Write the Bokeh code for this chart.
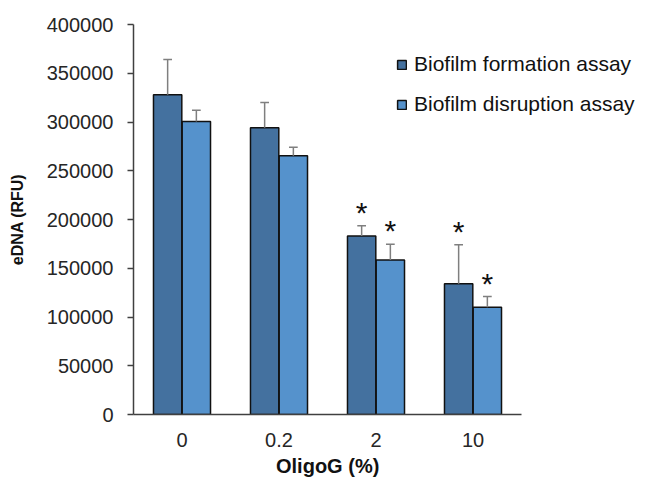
from bokeh.plotting import figure
from bokeh.layouts import row
from bokeh.models import (ColumnDataSource, Range1d, FixedTicker, Title, Spacer,
                          NumeralTickFormatter, Legend, LegendItem)
from bokeh.core.properties import value
from bokeh.embed import file_html
from bokeh.resources import INLINE

# ---- data ----
categories = ["0", "0.2", "2", "10"]
formation = [328000, 294000, 183000, 134000]
formation_err = [36000, 26000, 10500, 40000]
disruption = [300500, 265500, 158500, 110000]
disruption_err = [11500, 8500, 16000, 11000]
formation_sig = [False, False, True, True]
disruption_sig = [False, False, True, True]
y_ticks = [0, 50000, 100000, 150000, 200000, 250000, 300000, 350000, 400000]

series_names = ["Biofilm formation assay", "Biofilm disruption assay"]
DARK = "#44719f"
LIGHT = "#5592cc"
FONT = "Liberation Sans"

n = len(categories)
centers = [i + 0.5 for i in range(n)]
OFF = 0.148
BW = 0.292
CAP = 0.09

CAT_W = 388          # pixel width of the category area
FRAME_W = 505        # frame extends right so the legend is not clipped

src = ColumnDataSource(dict(
    xf=[c - OFF for c in centers], xd=[c + OFF for c in centers],
    f=formation, fe=[v + e for v, e in zip(formation, formation_err)],
    d=disruption, de=[v + e for v, e in zip(disruption, disruption_err)],
))

p = figure(x_range=Range1d(0, n * FRAME_W / CAT_W), y_range=Range1d(0, 400000),
           frame_width=FRAME_W, frame_height=390,
           output_backend="svg", toolbar_location=None,
           min_border_left=120, min_border_right=0, min_border_top=24,
           min_border_bottom=0)

p.outline_line_color = None
p.xgrid.grid_line_color = None
p.ygrid.grid_line_color = None

r1 = p.vbar(x="xf", top="f", width=BW, source=src,
            fill_color=DARK, line_color="#111111", line_width=1.5)
r2 = p.vbar(x="xd", top="d", width=BW, source=src,
            fill_color=LIGHT, line_color="#111111", line_width=1.5)

# error bars (upper only)
for xc, top, err in [("xf", "f", "fe"), ("xd", "d", "de")]:
    xs = src.data[xc]
    es = src.data[err]
    p.segment(x0=xc, y0=top, x1=xc, y1=err, source=src, line_color="#7f7f7f", line_width=1.5)
    p.segment(x0=[x - CAP / 2 for x in xs], y0=es, x1=[x + CAP / 2 for x in xs], y1=es,
              line_color="#7f7f7f", line_width=1.5)

# significance stars
STAR_OFF = 21000
for xc, vals, errs, sig in [("xf", formation, formation_err, formation_sig),
                            ("xd", disruption, disruption_err, disruption_sig)]:
    xs = [x for x, s in zip(src.data[xc], sig) if s]
    ys = [v + e + STAR_OFF for v, e, s in zip(vals, errs, sig) if s]
    p.text(x=xs, y=ys, text=["*"] * len(xs),
           text_font=value(FONT), text_font_size="30px", text_align="center",
           text_baseline="middle", text_color="#111111", y_offset=7)

# axes
p.yaxis.ticker = FixedTicker(ticks=y_ticks)
p.yaxis.formatter = NumeralTickFormatter(format="0")
p.yaxis.minor_tick_line_color = None
p.yaxis.major_tick_out = 6
p.yaxis.major_tick_in = 0
p.yaxis.major_label_standoff = 14
p.yaxis.axis_line_color = "#404040"
p.yaxis.major_tick_line_color = "#404040"
p.yaxis.axis_line_width = 1.5
p.yaxis.major_tick_line_width = 1.5
p.yaxis.major_label_text_font = FONT
p.yaxis.major_label_text_font_size = "20px"
p.yaxis.major_label_text_color = "#262626"
p.yaxis.axis_label = "eDNA (RFU)"
p.yaxis.axis_label_text_font = FONT
p.yaxis.axis_label_text_font_style = "bold"
p.yaxis.axis_label_text_font_size = "16px"
p.yaxis.axis_label_text_color = "#111111"
p.yaxis.axis_label_standoff = 18

p.xaxis.ticker = FixedTicker(ticks=centers)
p.xaxis.major_label_overrides = {c: lab for c, lab in zip(centers, categories)}
p.xaxis.bounds = (0, n)
p.xaxis.major_tick_line_color = None
p.xaxis.minor_tick_line_color = None
p.xaxis.major_tick_out = 0
p.xaxis.major_label_standoff = 18
p.xaxis.axis_line_color = "#404040"
p.xaxis.axis_line_width = 1.5
p.xaxis.major_label_text_font = FONT
p.xaxis.major_label_text_font_size = "20px"
p.xaxis.major_label_text_color = "#262626"

# x-axis title centred on the category area (not the whole frame)
XT_W = 103  # approx. rendered width of the title text
xtitle = Title(text="OligoG (%)", align="left", offset=CAT_W / 2 - XT_W / 2,
               text_font=FONT, text_font_style="bold", text_font_size="20px",
               text_color="#111111", standoff=7)
p.add_layout(xtitle, "below")

legend = Legend(items=[LegendItem(label=series_names[0], renderers=[r1]),
                       LegendItem(label=series_names[1], renderers=[r2])],
                location=(263, 298), orientation="vertical")
legend.border_line_color = None
legend.background_fill_alpha = 0
legend.padding = 0
legend.margin = 0
legend.spacing = 16
legend.glyph_width = 11
legend.glyph_height = 11
legend.label_standoff = 7
legend.label_text_font = FONT
legend.label_text_font_size = "21px"
legend.label_text_color = "#111111"
legend.label_height = 24
p.add_layout(legend, "center")

layout = row(Spacer(width=5, height=10), p)
open("out.html", "w").write(file_html(layout, INLINE))
